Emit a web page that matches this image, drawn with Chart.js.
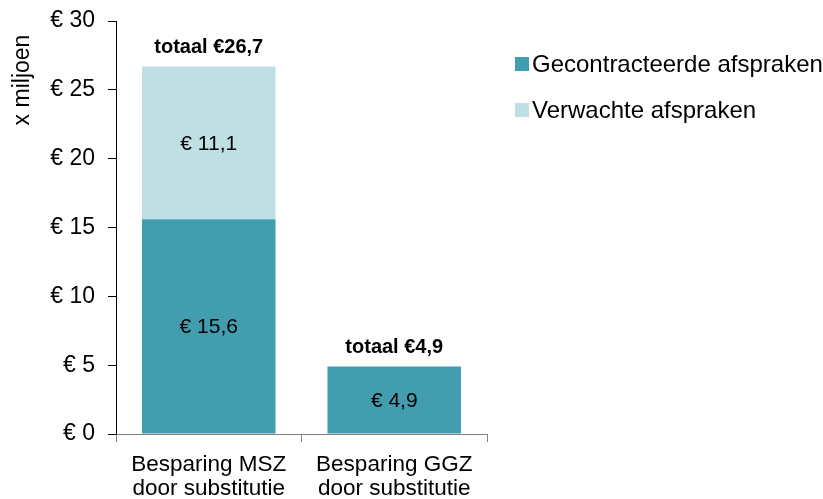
<!DOCTYPE html>
<html>
<head>
<meta charset="utf-8">
<script src="https://cdn.jsdelivr.net/npm/chart.js@4"></script>
<style>
  html, body { margin: 0; padding: 0; background: #fff; }
  #wrap { width: 823px; height: 499px; }
</style>
</head>
<body>
<div id="wrap"><canvas id="chart" width="823" height="499"></canvas></div>
<script>
// ─── DATA ─────────────────────────────────────────────────────
const categories   = [["Besparing MSZ", "door substitutie"], ["Besparing GGZ", "door substitutie"]];
const contracted   = [15.6, 4.9];
const expected     = [11.1, 0];
const seriesNames  = ["Gecontracteerde afspraken", "Verwachte afspraken"];
const yTicks       = [0, 5, 10, 15, 20, 25, 30];

const COLORS = ["#429eae", "#bfdfe4"];
const fontFamily = "'Liberation Sans', Arial, sans-serif";
const fmt = (v) => v.toFixed(1).replace(".", ",");

// in-bar values, totals, axis title and legend
const labelsPlugin = {
  id: "labels",
  afterDatasetsDraw(chart) {
    const ctx = chart.ctx;
    ctx.save();
    ctx.fillStyle = "#000";
    ctx.textAlign = "center";
    ctx.textBaseline = "middle";
    ctx.font = "21px " + fontFamily;
    chart.data.datasets.forEach((ds, di) => {
      chart.getDatasetMeta(di).data.forEach((bar, i) => {
        if (!ds.data[i]) return;
        const mid = (bar.y + bar.base) / 2;
        ctx.fillText("€ " + fmt(ds.data[i]), bar.x, mid + 1);
      });
    });
    ctx.font = "bold 20px " + fontFamily;
    const top = chart.getDatasetMeta(1).data;
    categories.forEach((c, i) => {
      const total = contracted[i] + expected[i];
      const y = chart.scales.y.getPixelForValue(total);
      ctx.fillText("totaal €" + fmt(total), top[i].x, y - 19);
    });

    // axis title
    ctx.font = "23px " + fontFamily;
    ctx.translate(23, 80);
    ctx.rotate(-Math.PI / 2);
    ctx.fillText("x miljoen", 0, 0);
    ctx.restore();

    // legend
    ctx.save();
    ctx.font = "24px " + fontFamily;
    ctx.textBaseline = "middle";
    ctx.textAlign = "left";
    seriesNames.forEach((name, i) => {
      const y = 64 + i * 46;
      ctx.fillStyle = COLORS[i];
      ctx.fillRect(515, y - 7, 14, 14);
      ctx.fillStyle = "#000";
      ctx.fillText(name, 532, y + 1);
    });
    ctx.restore();
  }
};

new Chart(document.getElementById("chart"), {
  type: "bar",
  data: {
    labels: categories,
    datasets: [
      { label: seriesNames[0], data: contracted, backgroundColor: COLORS[0] },
      { label: seriesNames[1], data: expected,   backgroundColor: COLORS[1] }
    ]
  },
  options: {
    responsive: false,
    animation: false,
    datasets: { bar: { categoryPercentage: 0.72, barPercentage: 1 } },
    layout: { padding: { top: 21, right: 336, left: 0, bottom: 0 } },
    plugins: { legend: { display: false }, tooltip: { enabled: false } },
    scales: {
      x: {
        stacked: true,
        afterFit: (s) => { s.height = 65; s.paddingLeft = 0; s.paddingRight = 0; },
        grid: { drawOnChartArea: false, offset: true, tickLength: 8, color: "#808080" },
        border: { display: true, color: "#808080" },
        ticks: { color: "#000", padding: 11, font: { family: fontFamily, size: 22.5, lineHeight: 1.05 } }
      },
      y: {
        stacked: true,
        min: 0, max: 30,
        afterFit: (s) => { s.width = 116; s.paddingTop = 0; s.paddingBottom = 0; },
        afterBuildTicks: (s) => { s.ticks = yTicks.map(v => ({ value: v })); },
        grid: { drawOnChartArea: false, tickLength: 8, color: "#000" },
        border: { display: true, color: "#000" },
        ticks: {
          color: "#000", padding: 13,
          font: { family: fontFamily, size: 23 },
          callback: (v) => "€ " + v
        }
      }
    }
  },
  plugins: [labelsPlugin]
});
</script>
</body>
</html>
